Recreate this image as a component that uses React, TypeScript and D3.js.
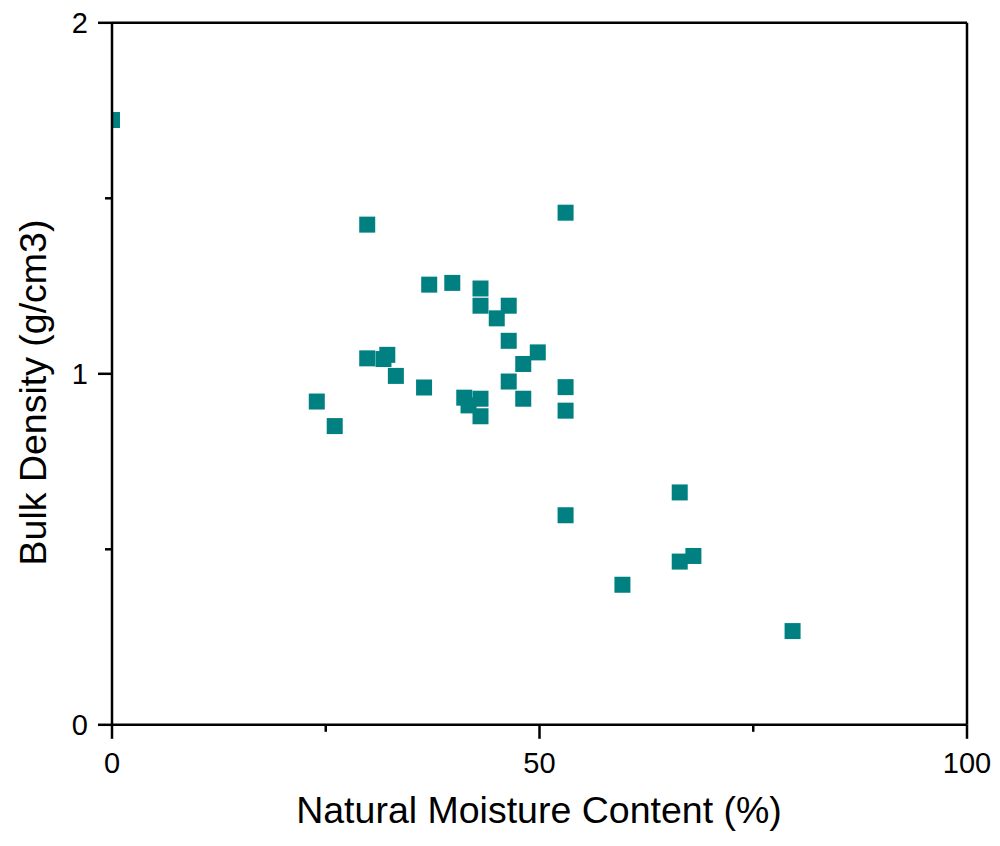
import React from "react";
import * as d3 from "d3";

// Natural moisture content (%) and bulk density (g/cm3) per sample
const moisture = [
  0, 29.85, 53.05, 37.1, 39.8, 43.1, 43.1, 46.4, 45.0, 46.4, 49.8, 48.1,
  29.85, 31.75, 32.2, 33.2, 36.5, 46.4, 53.05, 23.95, 26.05, 41.2, 43.1,
  41.7, 43.1, 48.1, 53.05, 53.05, 66.4, 68.0, 66.4, 59.7, 79.6,
];
const density = [
  1.723, 1.425, 1.459, 1.254, 1.259, 1.243, 1.194, 1.194, 1.158, 1.094,
  1.061, 1.028, 1.044, 1.042, 1.054, 0.994, 0.961, 0.978, 0.962, 0.921,
  0.851, 0.932, 0.929, 0.91, 0.879, 0.929, 0.895, 0.597, 0.662, 0.481,
  0.465, 0.399, 0.267,
];

const xMajorTicks = [0, 50, 100];
const xMinorTicks = [25, 75];
const yMajorTicks = [0, 1, 2];
const yMinorTicks = [0.5, 1.5];

const xTitle = "Natural Moisture Content (%)";
const yTitle = "Bulk Density (g/cm3)";

const W = 1000;
const H = 846;
const left = 112;
const right = 967;
const top = 22.8;
const bottom = 724.8;

const font = "'Liberation Sans', Arial, sans-serif";
const teal = "#008080";
const markerSize = 16;

export default function App() {
  const x = d3.scaleLinear().domain([0, 100]).range([left, right]);
  const y = d3.scaleLinear().domain([0, 2]).range([bottom, top]);
  const points = moisture.map((m, i) => ({ m, d: density[i] }));
  const sw = 2.5;

  return (
    <svg
      width={W}
      height={H}
      style={{ position: "absolute", left: 0, top: 0, background: "#fff" }}
    >
      <defs>
        <clipPath id="plot-clip">
          <rect x={left} y={top} width={right - left} height={bottom - top} />
        </clipPath>
      </defs>

      <g clipPath="url(#plot-clip)">
        {points.map((p, i) => (
          <rect
            key={i}
            x={x(p.m) - markerSize / 2}
            y={y(p.d) - markerSize / 2}
            width={markerSize}
            height={markerSize}
            fill={teal}
          />
        ))}
      </g>

      {/* frame */}
      <g stroke="#000" strokeWidth={sw} fill="none">
        <line x1={left} y1={top} x2={right} y2={top} />
        <line x1={right} y1={top} x2={right} y2={bottom} />
        <line x1={left} y1={bottom} x2={right} y2={bottom} />
        <line x1={left} y1={top} x2={left} y2={bottom} />
      </g>

      {/* x axis ticks */}
      <g stroke="#000" strokeWidth={sw}>
        {xMajorTicks.map((t) => (
          <line key={t} x1={x(t)} x2={x(t)} y1={bottom} y2={bottom + 14} />
        ))}
        {xMinorTicks.map((t) => (
          <line key={t} x1={x(t)} x2={x(t)} y1={bottom} y2={bottom + 7} />
        ))}
      </g>
      {xMajorTicks.map((t) => (
        <text
          key={t}
          x={x(t)}
          y={773}
          textAnchor="middle"
          fontFamily={font}
          fontSize={29}
          fill="#000"
        >
          {t}
        </text>
      ))}

      {/* y axis ticks */}
      <g stroke="#000" strokeWidth={sw}>
        {yMajorTicks.map((t) => (
          <line key={t} x1={left - 14} x2={left} y1={y(t)} y2={y(t)} />
        ))}
        {yMinorTicks.map((t) => (
          <line key={t} x1={left - 7} x2={left} y1={y(t)} y2={y(t)} />
        ))}
      </g>
      {yMajorTicks.map((t) => (
        <text
          key={t}
          x={88}
          y={y(t) + 10}
          textAnchor="end"
          fontFamily={font}
          fontSize={29}
          fill="#000"
        >
          {t}
        </text>
      ))}

      {/* axis titles */}
      <text
        x={539}
        y={823}
        textAnchor="middle"
        fontFamily={font}
        fontSize={37.5}
        fill="#000"
      >
        {xTitle}
      </text>
      <text
        transform={`translate(46, 392.5) rotate(-90)`}
        textAnchor="middle"
        fontFamily={font}
        fontSize={37.5}
        fill="#000"
      >
        {yTitle}
      </text>
    </svg>
  );
}
